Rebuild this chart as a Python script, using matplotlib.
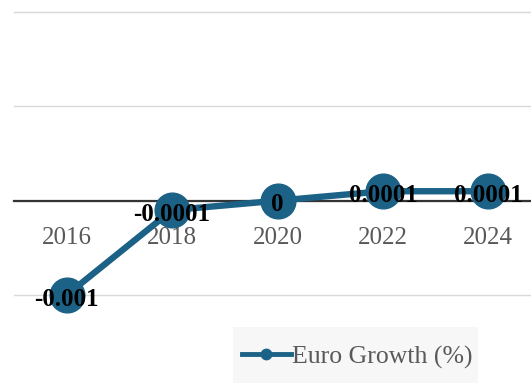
import matplotlib
matplotlib.use("Agg")
import matplotlib.pyplot as plt
from matplotlib.patches import Rectangle

years = ["2016", "2018", "2020", "2022", "2024"]
growth = [-0.001, -0.0001, 0, 0.0001, 0.0001]
point_labels = ["-0.001", "-0.0001", "0", "0.0001", "0.0001"]

LINE_COLOR = "#1c6286"
SERIF = ["Liberation Serif", "DejaVu Serif"]
W, H = 531, 387

fig = plt.figure(figsize=(W / 100, H / 100), dpi=100)
ax = fig.add_axes([14 / W, 1 - 295 / H, 527 / W, (295 - 12) / H])

x = list(range(len(years)))
ax.plot(x, growth, color=LINE_COLOR, linewidth=4.6, marker="o",
        markersize=25, label="Euro Growth (%)", zorder=3, clip_on=False)

for xi, yi, txt in zip(x, growth, point_labels):
    ax.annotate(txt, (xi, yi), xytext=(0, -3), textcoords="offset points",
                ha="center", va="center", fontsize=18, fontweight="bold",
                family=SERIF, color="black", zorder=4)

ax.set_xlim(-0.5, 4.5)
ax.set_ylim(-0.001, 0.002)
ax.set_yticks([-0.001, 0, 0.001, 0.002])
ax.yaxis.grid(True, color="#d9d9d9", linewidth=1)
for gl in ax.get_ygridlines():
    gl.set_clip_on(False)
ax.set_axisbelow(True)
ax.tick_params(axis="y", length=0, labelleft=False)

# category axis sits on the zero line
for side in ["top", "right", "left"]:
    ax.spines[side].set_visible(False)
ax.spines["bottom"].set_position(("data", 0))
ax.spines["bottom"].set_color("#333333")
ax.spines["bottom"].set_linewidth(1.6)
ax.set_xticks(x)
ax.set_xticklabels(years, family=SERIF, fontsize=18, color="#595959")
ax.tick_params(axis="x", length=0, pad=19)

# legend panel
fig.patches.append(Rectangle((233 / W, 1 - 383 / H), 245 / W, 56 / H,
                             transform=fig.transFigure, facecolor="#f7f7f7",
                             edgecolor="none", zorder=0))
leg = fig.legend(loc="center left", bbox_to_anchor=(229 / W, 1 - 357 / H),
                 prop={"family": SERIF, "size": 18.5}, frameon=False,
                 handlelength=1.9, handletextpad=0.05, borderpad=0.0,
                 markerscale=0.3)
for t in leg.get_texts():
    t.set_color("#595959")
for h in leg.legend_handles:
    h.set_linewidth(3.5)

fig.savefig("out.png", dpi=100)
